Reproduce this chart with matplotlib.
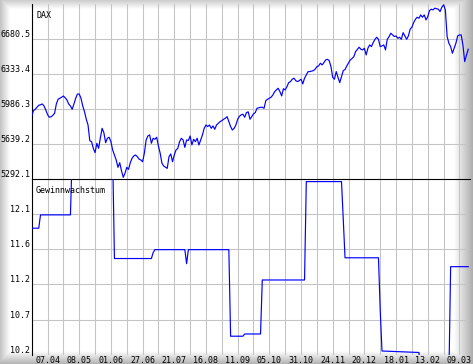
import numpy as np
import matplotlib
matplotlib.use("Agg")
import matplotlib.pyplot as plt

# ---------------- data ----------------
dax = [
    5919, 5971, 5985, 6005, 6025, 6030, 6038, 6018, 5978, 5932,
    5906, 5910, 5925, 5945, 6038, 6085, 6095, 6105, 6117, 6100,
    6078, 6038, 6018, 5985, 6038, 6095, 6137, 6137, 6095, 6018,
    5961, 5886, 5829, 5673, 5663, 5597, 5554, 5647, 5597, 5700,
    5796, 5752, 5653, 5697, 5707, 5663, 5580, 5531, 5481, 5408,
    5454, 5375, 5309, 5349, 5408, 5388, 5454, 5498, 5521, 5531,
    5514, 5490, 5481, 5464, 5548, 5680, 5720, 5730, 5647, 5697,
    5687, 5707, 5620, 5547, 5448, 5421, 5410, 5398, 5514, 5541,
    5464, 5531, 5581, 5597, 5663, 5697, 5680, 5607, 5680, 5675,
    5720, 5631, 5687, 5663, 5697, 5630, 5680, 5730, 5796, 5829,
    5813, 5829, 5796, 5819, 5786, 5829, 5846, 5862, 5872, 5886,
    5896, 5912, 5862, 5813, 5779, 5796, 5829, 5886, 5915, 5930,
    5936, 5906, 5952, 5960, 5886, 5912, 5940, 5952, 5995, 6000,
    6005, 6005, 5995, 6071, 6085, 6095, 6105, 6127, 6160, 6177,
    6194, 6161, 6118, 6190, 6177, 6210, 6250, 6260, 6284, 6294,
    6270, 6260, 6270, 6284, 6237, 6294, 6326, 6359, 6360, 6365,
    6369, 6383, 6409, 6416, 6443, 6426, 6449, 6476, 6482, 6469,
    6410, 6303, 6284, 6360, 6303, 6250, 6309, 6370, 6380, 6416,
    6445, 6476, 6490, 6508, 6558, 6580, 6602, 6582, 6575, 6592,
    6525, 6592, 6625, 6608, 6648, 6680, 6701, 6681, 6608, 6615,
    6625, 6575, 6681, 6707, 6741, 6724, 6708, 6714, 6691, 6701,
    6681, 6747, 6714, 6681, 6714, 6781, 6801, 6847, 6880, 6900,
    6890, 6923, 6900, 6923, 6873, 6906, 6966, 6980, 6973, 6990,
    6985, 6980, 6956, 7000, 7023, 6973, 6708, 6642, 6608, 6542,
    6592, 6642, 6714, 6724, 6724, 6620, 6459, 6525, 6582,
]
dax_days = list(range(len(dax)))

# earnings growth ("Gewinnwachstum") change points: trading-day index, value
growth_days = [0, 4, 5, 22, 23, 46, 47, 68, 69, 70, 87, 88, 89, 112, 113, 120,
               121, 130, 131, 155, 156, 176, 177, 178, 197, 198, 199, 220, 221,
               237, 238, 248]
growth_vals = [11.91, 11.91, 12.09, 12.09, 12.90, 12.90, 11.50, 11.50, 11.58,
               11.62, 11.62, 11.43, 11.62, 11.62, 10.45, 10.45, 10.48, 10.48,
               11.21, 11.21, 12.54, 12.54, 12.03, 11.51, 11.51, 10.80, 10.25,
               10.23, 9.90, 9.90, 11.39, 11.39]

dax_ticks = [5292.1, 5639.2, 5986.3, 6333.4, 6680.5]
dax_tick_labels = ["5292.1", "5639.2", "5986.3", "6333.4", "6680.5"]
dax_top = 7027.6

growth_ticks = [10.2, 10.675, 11.15, 11.625, 12.1]
growth_tick_labels = ["10.2", "10.7", "11.2", "11.6", "12.1"]
growth_top = 12.575

x_tick_days = [9, 27, 45, 63, 81, 99, 117, 135, 153, 171, 189, 207, 225, 243]
x_tick_labels = ["07.04", "08.05", "01.06", "27.06", "21.07", "16.08", "11.09",
                 "05.10", "31.10", "24.11", "20.12", "18.01", "13.02", "09.03"]
x_grid_days = list(range(0, 249, 9))
x_max = 249

# ---------------- figure ----------------
W, H = 473, 364
fig = plt.figure(figsize=(W / 100, H / 100), dpi=100)

# bevel-like grey gradient background
bg = fig.add_axes([0, 0, 1, 1], zorder=-10)
xx, yy = np.meshgrid(np.arange(W) + 0.5, np.arange(H) + 0.5)
left = 0.24 * np.clip(1 - xx / 10.0, 0, 1)
top = 0.20 * np.clip(1 - yy / 9.0, 0, 1)
right = 0.34 * np.clip((xx - 453) / 20.0, 0, 1)
bottom = 0.30 * np.clip((yy - 351) / 13.0, 0, 1)
shade = 1 - np.maximum.reduce([left, top, right, bottom])
img = np.dstack([shade, shade, shade])
bg.imshow(img, extent=[0, W, H, 0], aspect="auto", interpolation="bilinear")
bg.set_xlim(0, W)
bg.set_ylim(H, 0)
bg.axis("off")

ax_l = 31.7 / W
ax_w = (470 - 31.7) / W
ax1 = fig.add_axes([ax_l, (H - 179) / H, ax_w, (179 - 4.4) / H])
ax2 = fig.add_axes([ax_l, (H - 354.7) / H, ax_w, (354.7 - 179) / H])

mono = "DejaVu Sans Mono"
grid_c = "#c4c4c4"

for ax in (ax1, ax2):
    ax.set_facecolor("none")
    for s in ("right", "bottom", "top"):
        ax.spines[s].set_visible(False)
    ax.spines["left"].set_color("black")
    ax.spines["left"].set_linewidth(0.8)
    ax.set_xlim(0, x_max)
    for d in x_grid_days:
        ax.axvline(d, color=grid_c, lw=0.75, zorder=0)
    ax.tick_params(length=0, labelsize=6)

ax2.spines["top"].set_visible(True)
ax2.spines["top"].set_color("black")
ax2.spines["top"].set_linewidth(0.8)

# top panel: DAX
ax1.set_ylim(dax_ticks[0], dax_top)
for v in dax_ticks[1:]:
    ax1.axhline(v, color=grid_c, lw=0.75, zorder=0)
ax1.plot(dax_days, dax, color="#0000ff", lw=0.85, zorder=3)
ax1.set_yticks(dax_ticks)
ax1.set_yticklabels(dax_tick_labels, fontfamily=mono, fontsize=6)
ax1.set_xticks([])
ax1.tick_params(axis="y", pad=1.2)
for lbl in ax1.get_yticklabels():
    lbl.set_verticalalignment("bottom")
ax1.text(0.01, 0.936, "DAX", transform=ax1.transAxes, fontfamily=mono,
         fontsize=6, ha="left", va="center", color="black")

# bottom panel: Gewinnwachstum
ax2.set_ylim(growth_ticks[0], growth_top)
for v in growth_ticks[1:]:
    ax2.axhline(v, color=grid_c, lw=0.75, zorder=0)
ax2.plot(growth_days, growth_vals, color="#0000ff", lw=0.85, zorder=3)
ax2.set_yticks(growth_ticks)
ax2.set_yticklabels(growth_tick_labels, fontfamily=mono, fontsize=6)
ax2.tick_params(axis="y", pad=1.2)
for lbl in ax2.get_yticklabels():
    lbl.set_verticalalignment("bottom")
ax2.set_xticks(x_tick_days)
ax2.set_xticklabels(x_tick_labels, fontfamily=mono, fontsize=6)
ax2.tick_params(axis="x", pad=0.6)
ax2.text(0.01, 0.935, "Gewinnwachstum", transform=ax2.transAxes,
         fontfamily=mono, fontsize=6, ha="left", va="center", color="black")

fig.savefig("out.png", dpi=100)
